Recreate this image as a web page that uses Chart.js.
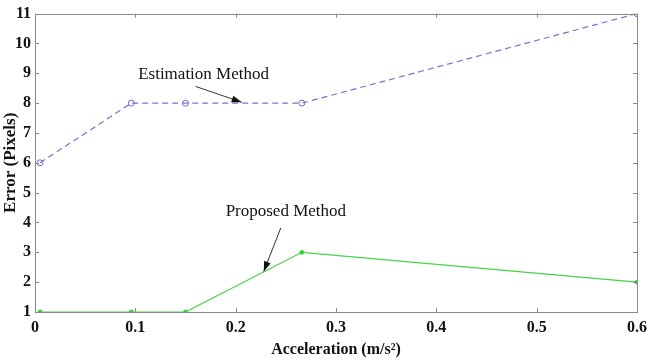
<!DOCTYPE html>
<html><head><meta charset="utf-8">
<script src="https://cdn.jsdelivr.net/npm/chart.js@4/dist/chart.umd.min.js"></script>
<style>html,body{margin:0;padding:0;background:#fff}#c{display:block}</style>
</head><body>
<canvas id="c" width="653" height="360"></canvas>
<script>
const accel = [0.005, 0.096, 0.15, 0.266, 0.6];
const estimationError = [6, 8, 8, 8, 11];
const proposedError = [1, 1, 1, 3, 2];
const xTickLabels = ['0', '0.1', '0.2', '0.3', '0.4', '0.5', '0.6'];
const yTickLabels = ['1','2','3','4','5','6','7','8','9','10','11'];
const annotations = [
  {text: 'Estimation Method', x: 0.168, y: 8.97, from: [0.160, 8.56], to: [0.206, 8.03]},
  {text: 'Proposed Method', x: 0.25, y: 4.36, from: [0.245, 3.82], to: [0.228, 2.36]}
];

const FONT = "'Liberation Serif', 'Times New Roman', serif";
const frameColor = '#8a8a8a';

const framePlugin = {
  id: 'frame',
  afterDatasetsDraw(chart) {
    const {ctx, chartArea: a, scales: {x, y}} = chart;
    ctx.save();
    ctx.strokeStyle = frameColor;
    ctx.lineWidth = 1;
    ctx.strokeRect(Math.round(a.left) + 0.5, Math.round(a.top) + 0.5, Math.round(a.right - a.left), Math.round(a.bottom - a.top));
    const tl = 4;
    ctx.beginPath();
    x.ticks.forEach(t => {
      const px = Math.round(x.getPixelForValue(t.value)) + 0.5;
      ctx.moveTo(px, a.bottom); ctx.lineTo(px, a.bottom - tl);
      ctx.moveTo(px, a.top); ctx.lineTo(px, a.top + tl);
    });
    y.ticks.forEach(t => {
      const py = Math.round(y.getPixelForValue(t.value)) + 0.5;
      ctx.moveTo(a.left, py); ctx.lineTo(a.left + tl, py);
      ctx.moveTo(a.right, py); ctx.lineTo(a.right - tl, py);
    });
    ctx.stroke();
    ctx.restore();
  },
  afterDraw(chart) {
    const {ctx, scales: {x, y}} = chart;
    ctx.save();
    ctx.font = '17px ' + FONT;
    ctx.fillStyle = '#111';
    ctx.textAlign = 'center';
    ctx.textBaseline = 'middle';
    annotations.forEach(an => {
      ctx.fillText(an.text, x.getPixelForValue(an.x), y.getPixelForValue(an.y));
      const x1 = x.getPixelForValue(an.from[0]), y1 = y.getPixelForValue(an.from[1]);
      const x2 = x.getPixelForValue(an.to[0]), y2 = y.getPixelForValue(an.to[1]);
      ctx.strokeStyle = '#333';
      ctx.lineWidth = 1;
      ctx.beginPath(); ctx.moveTo(x1, y1); ctx.lineTo(x2, y2); ctx.stroke();
      const ang = Math.atan2(y2 - y1, x2 - x1);
      const L = 10, W = 3.5;
      ctx.fillStyle = '#111';
      ctx.beginPath();
      ctx.moveTo(x2, y2);
      ctx.lineTo(x2 - L * Math.cos(ang) + W * Math.sin(ang), y2 - L * Math.sin(ang) - W * Math.cos(ang));
      ctx.lineTo(x2 - L * Math.cos(ang) - W * Math.sin(ang), y2 - L * Math.sin(ang) + W * Math.cos(ang));
      ctx.closePath(); ctx.fill();
    });
    ctx.restore();
  }
};

new Chart(document.getElementById('c'), {
  type: 'line',
  data: {
    datasets: [
      {
        label: 'Estimation Method',
        data: accel.map((a, i) => ({x: a, y: estimationError[i]})),
        borderColor: '#7474d4',
        borderWidth: 1.2,
        borderDash: [6, 4],
        pointStyle: 'circle',
        pointRadius: 3,
        pointBorderColor: '#6a6ad0',
        pointBackgroundColor: 'rgba(255,255,255,0)',
        pointBorderWidth: 1,
        tension: 0,
        fill: false
      },
      {
        label: 'Proposed Method',
        data: accel.map((a, i) => ({x: a, y: proposedError[i]})),
        borderColor: '#44d444',
        borderWidth: 1.2,
        pointStyle: 'star',
        pointRadius: 2.5,
        pointBorderColor: '#33cc33',
        pointBackgroundColor: '#33cc33',
        pointBorderWidth: 1.2,
        tension: 0,
        fill: false
      }
    ]
  },
  options: {
    responsive: false,
    animation: false,
    layout: {padding: {top: 11, right: 12, left: 0, bottom: 0}},
    plugins: {legend: {display: false}, tooltip: {enabled: false}},
    scales: {
      x: {
        type: 'linear', min: 0, max: 0.6,
        grid: {display: false, drawTicks: false},
        border: {display: false},
        ticks: {stepSize: 0.1, padding: 6, color: '#111', font: {family: FONT, size: 16, weight: 'bold'},
          callback: (v, i) => xTickLabels[i]},
        title: {display: true, text: 'Acceleration (m/s²)', color: '#111', font: {family: FONT, size: 16, weight: 'bold'}, padding: {top: 0, bottom: 1}},
        afterFit: s => { s.height = 48; }
      },
      y: {
        type: 'linear', min: 1, max: 11,
        grid: {display: false, drawTicks: false},
        border: {display: false},
        ticks: {stepSize: 1, padding: 4, color: '#111', font: {family: FONT, size: 16, weight: 'bold'},
          callback: (v, i) => yTickLabels[i]},
        title: {display: true, text: 'Error (Pixels)', color: '#111', font: {family: FONT, size: 17, weight: 'bold'}, padding: {top: 0, bottom: 0}},
        afterFit: s => { s.width = 35; }
      }
    }
  },
  plugins: [framePlugin]
});
</script>
</body></html>
